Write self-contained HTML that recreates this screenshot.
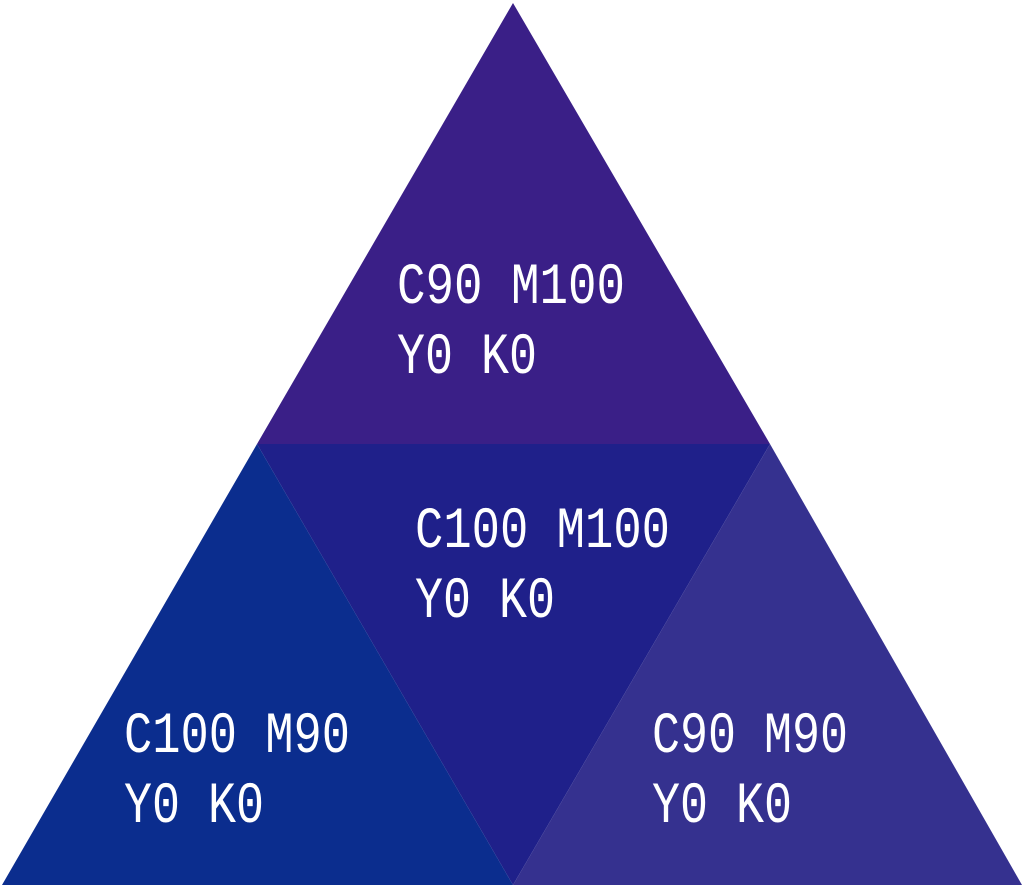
<!DOCTYPE html>
<html><head><meta charset="utf-8"><style>
html,body{margin:0;padding:0;background:#fff;width:1024px;height:889px;overflow:hidden}
svg{display:block}
text{font-family:"Liberation Mono","DejaVu Sans Mono",monospace;font-size:58px;fill:#fff}
</style></head><body>
<svg width="1024" height="889" viewBox="0 0 1024 889">
<polygon points="513,3 770,444 257,444" fill="#3a1f87"/>
<polygon points="257,444 770,444 513,885" fill="#1f208a"/>
<polygon points="257,444 513,885 2,885" fill="#0b2d8e"/>
<polygon points="770,444 1022,885 513,885" fill="#35318f"/>
<text x="397" y="303" textLength="228" lengthAdjust="spacingAndGlyphs">C90 M100</text>
<text x="397" y="373" textLength="140" lengthAdjust="spacingAndGlyphs">Y0 K0</text>
<text x="415" y="547" textLength="255" lengthAdjust="spacingAndGlyphs">C100 M100</text>
<text x="415" y="617" textLength="140" lengthAdjust="spacingAndGlyphs">Y0 K0</text>
<text x="124" y="752" textLength="226" lengthAdjust="spacingAndGlyphs">C100 M90</text>
<text x="124" y="822" textLength="140" lengthAdjust="spacingAndGlyphs">Y0 K0</text>
<text x="652" y="752" textLength="196" lengthAdjust="spacingAndGlyphs">C90 M90</text>
<text x="652" y="822" textLength="140" lengthAdjust="spacingAndGlyphs">Y0 K0</text>
</svg>
</body></html>
